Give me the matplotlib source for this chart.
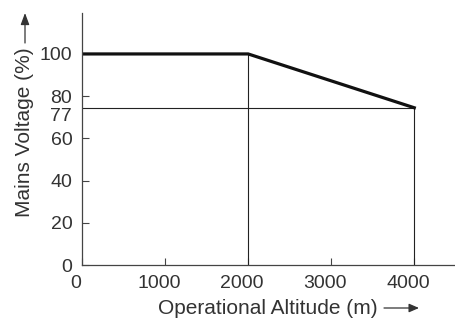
import matplotlib
matplotlib.use("Agg")
import matplotlib.pyplot as plt
import matplotlib.patches as mpatches
from matplotlib.transforms import ScaledTranslation

# derating curve: mains voltage vs operational altitude
altitude = [0, 2000, 4000]
voltage = [100, 100, 74.5]
ref_altitude = [2000, 4000]
ref_level = 74.5

yticks = [0, 20, 40, 60, 80, 100]
xticks = [0, 1000, 2000, 3000, 4000]

plt.rcParams['font.family'] = ['Liberation Sans', 'DejaVu Sans']
txt = '#333333'
ink = '#222222'

fig = plt.figure(figsize=(4.55, 3.18), dpi=100)
ax = fig.add_axes([82 / 455, 53 / 318, 373 / 455, 252 / 318])
ax.set_xlim(0, 4490)
ax.set_ylim(0, 119.4)

# thin guide lines
ax.plot([0, ref_altitude[1]], [ref_level, ref_level], color=ink, lw=0.8)
ax.plot([ref_altitude[0]] * 2, [0, voltage[1]], color=ink, lw=0.8)
ax.plot([ref_altitude[1]] * 2, [0, voltage[2]], color=ink, lw=0.8)

# main curve
ax.plot(altitude, voltage, color='#111111', lw=2.3, solid_joinstyle='miter')

for s in ['top', 'right']:
    ax.spines[s].set_visible(False)
for s in ['left', 'bottom']:
    ax.spines[s].set_color('#444444')
    ax.spines[s].set_linewidth(0.9)

ax.set_xticks(xticks)
ax.set_yticks(yticks)
ax.tick_params(direction='in', length=5, width=0.8, color='#444444',
               labelsize=14, labelcolor=txt)
ax.tick_params(axis='y', pad=7)
ax.tick_params(axis='x', pad=7)

# x tick labels sit a little left of their ticks in the original
shift = ScaledTranslation(-6 / 100, 0, fig.dpi_scale_trans)
for lab in ax.get_xticklabels():
    lab.set_transform(lab.get_transform() + shift)

# "77" label squeezed under "80"
ax.text(-10 / 83 * 1000 * 1.0, 70.5, '77', ha='right', va='center',
        fontsize=14, color=txt)

# axis labels with arrows
fig.text(268 / 455, 1 - 308 / 318, 'Operational Altitude (m)', ha='center',
         va='center', fontsize=15, color=txt)
fig.patches.append(mpatches.FancyArrowPatch(
    (384 / 455, 1 - 308 / 318), (419 / 455, 1 - 308 / 318),
    transform=fig.transFigure, arrowstyle='-|>,head_length=6,head_width=2.6',
    color=txt, lw=0.9, shrinkA=0, shrinkB=0))

fig.text(25 / 455, 1 - 132 / 318, 'Mains Voltage (%)', ha='center',
         va='center', rotation=90, fontsize=15, color=txt)
fig.patches.append(mpatches.FancyArrowPatch(
    (25 / 455, 1 - 43 / 318), (25 / 455, 1 - 13 / 318),
    transform=fig.transFigure, arrowstyle='-|>,head_length=7,head_width=2.6',
    color=txt, lw=0.9, shrinkA=0, shrinkB=0))

fig.savefig('out.png', dpi=100)
